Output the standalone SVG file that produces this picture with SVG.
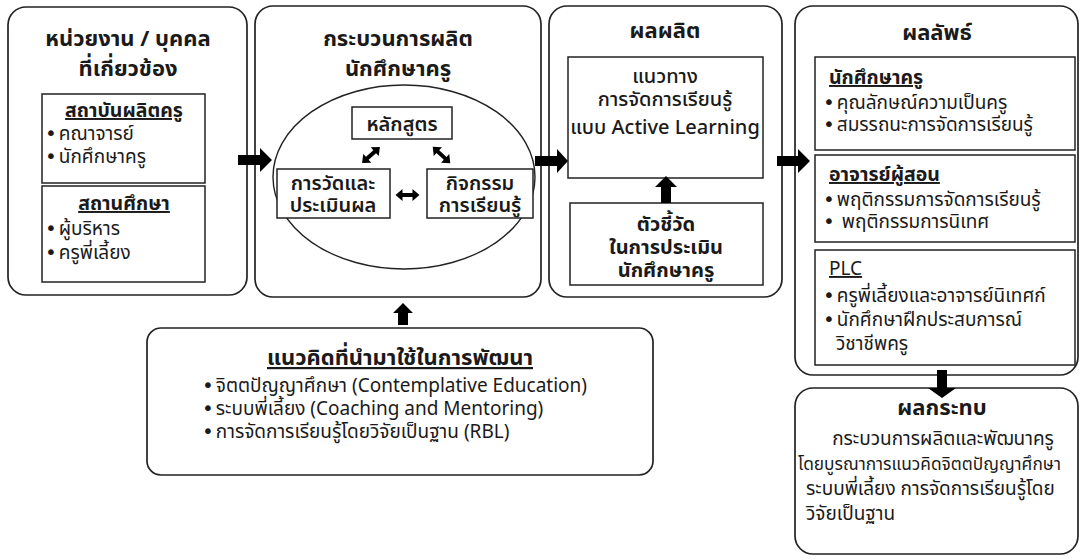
<svg xmlns="http://www.w3.org/2000/svg" xmlns:xlink="http://www.w3.org/1999/xlink" width="1081" height="559" viewBox="0 0 1081 559">
<style>
text{font-family:"Noto Sans Thai","Noto Sans",sans-serif;fill:#1a1a1a}
.outer{fill:#fff;stroke:#222;stroke-width:1.7}
.inner{fill:#fff;stroke:#222;stroke-width:1.5}
.h{font-size:22px;font-weight:bold;text-anchor:middle}
.sh{font-size:19.5px;font-weight:bold;text-decoration:underline}
.b{font-size:19px}
.m{font-size:20px;font-weight:600;text-anchor:middle}
.c{text-anchor:middle}
.bl{font-family:"DejaVu Sans",sans-serif;font-size:20px}
.arr{fill:#000}
</style>
<defs>
<path id="dbl" d="M-12,0 L-5,-6 L-5,-2 L5,-2 L5,-6 L12,0 L5,6 L5,2 L-5,2 L-5,6 Z"/>
</defs>
<rect width="1081" height="559" fill="#fff"/>

<g id="node-units">
<rect class="outer" x="8" y="7" width="239" height="288" rx="18"/>
<text class="h" x="128" y="46">หน่วยงาน / บุคคล</text>
<text class="h" x="128" y="76">ที่เกี่ยวข้อง</text>
<rect class="inner" x="42" y="94" width="163" height="89"/>
<text class="sh c" x="124" y="117">สถาบันผลิตครู</text>
<text class="b" x="45" y="140"><tspan class="bl">•</tspan><tspan dx="2">คณาจารย์</tspan></text>
<text class="b" x="45" y="163"><tspan class="bl">•</tspan><tspan dx="2">นักศึกษาครู</tspan></text>
<rect class="inner" x="42" y="186" width="163" height="96"/>
<text class="sh c" x="124" y="210">สถานศึกษา</text>
<text class="b" x="45" y="235"><tspan class="bl">•</tspan><tspan dx="2">ผู้บริหาร</tspan></text>
<text class="b" x="45" y="259"><tspan class="bl">•</tspan><tspan dx="2">ครูพี่เลี้ยง</tspan></text>
</g>

<g id="node-process">
<rect class="outer" x="255" y="6" width="286" height="291" rx="18"/>
<text class="h" x="398" y="46">กระบวนการผลิต</text>
<text class="h" x="398" y="76">นักศึกษาครู</text>
<ellipse cx="404" cy="177" rx="131" ry="92" fill="none" stroke="#222" stroke-width="1.4"/>
<rect class="inner" x="352" y="107" width="100" height="32"/>
<text class="m" x="402" y="131">หลักสูตร</text>
<rect class="inner" x="277" y="169" width="113" height="49"/>
<text class="m" x="333" y="190">การวัดและ</text>
<text class="m" x="333" y="212">ประเมินผล</text>
<rect class="inner" x="427" y="169" width="106" height="49"/>
<text class="m" x="480" y="190">กิจกรรม</text>
<text class="m" x="480" y="212">การเรียนรู้</text>
</g>

<g id="node-output">
<rect class="outer" x="549" y="6" width="233" height="291" rx="18"/>
<text class="h" x="665" y="38">ผลผลิต</text>
<rect class="inner" x="568" y="57" width="195" height="121"/>
<text class="m" x="665" y="83" style="font-weight:500">แนวทาง</text>
<text class="m" x="665" y="106" style="font-weight:500">การจัดการเรียนรู้</text>
<text class="m" x="665" y="134" style="font-weight:500">แบบ Active Learning</text>
<rect class="inner" x="570" y="203" width="193" height="82"/>
<text class="m" x="666" y="231" style="font-weight:bold">ตัวชี้วัด</text>
<text class="m" x="666" y="254" style="font-weight:bold">ในการประเมิน</text>
<text class="m" x="666" y="277" style="font-weight:bold">นักศึกษาครู</text>
</g>

<g id="node-outcome">
<rect class="outer" x="795" y="6" width="283" height="369" rx="18"/>
<text class="h" x="937" y="40">ผลลัพธ์</text>
<rect class="inner" x="815" y="57" width="260" height="93"/>
<text class="sh" x="829" y="84">นักศึกษาครู</text>
<text class="b" x="823" y="109"><tspan class="bl">•</tspan><tspan dx="2">คุณลักษณ์ความเป็นครู</tspan></text>
<text class="b" x="823" y="131"><tspan class="bl">•</tspan><tspan dx="2">สมรรถนะการจัดการเรียนรู้</tspan></text>
<rect class="inner" x="815" y="155" width="260" height="87"/>
<text class="sh" x="829" y="181">อาจารย์ผู้สอน</text>
<text class="b" x="823" y="206"><tspan class="bl">•</tspan><tspan dx="2">พฤติกรรมการจัดการเรียนรู้</tspan></text>
<text class="b" x="823" y="228"><tspan class="bl">•</tspan><tspan dx="7">พฤติกรรมการนิเทศ</tspan></text>
<rect class="inner" x="815" y="250" width="260" height="115"/>
<text class="b" x="829" y="275" style="text-decoration:underline">PLC</text>
<text class="b" x="823" y="302"><tspan class="bl">•</tspan><tspan dx="2">ครูพี่เลี้ยงและอาจารย์นิเทศก์</tspan></text>
<text class="b" x="823" y="326"><tspan class="bl">•</tspan><tspan dx="2">นักศึกษาฝึกประสบการณ์</tspan></text>
<text class="b" x="836" y="350">วิชาชีพครู</text>
</g>

<g id="node-concepts">
<rect class="outer" x="147" y="328" width="506" height="147" rx="14"/>
<text class="sh c" x="400" y="365" style="font-size:22px">แนวคิดที่นำมาใช้ในการพัฒนา</text>
<text class="b" x="202" y="392"><tspan class="bl">•</tspan><tspan dx="2">จิตตปัญญาศึกษา (Contemplative Education)</tspan></text>
<text class="b" x="202" y="415"><tspan class="bl">•</tspan><tspan dx="2">ระบบพี่เลี้ยง (Coaching and Mentoring)</tspan></text>
<text class="b" x="202" y="438"><tspan class="bl">•</tspan><tspan dx="2">การจัดการเรียนรู้โดยวิจัยเป็นฐาน (RBL)</tspan></text>
</g>

<g id="node-impact">
<rect class="outer" x="795" y="388" width="283" height="166" rx="18"/>
<text class="h" x="942" y="415" style="font-size:22px">ผลกระทบ</text>
<text class="b c" x="943" y="445">กระบวนการผลิตและพัฒนาครู</text>
<text class="b" x="798" y="470" style="font-size:17.3px">โดยบูรณาการแนวคิดจิตตปัญญาศึกษา</text>
<text class="b" x="806" y="495">ระบบพี่เลี้ยง การจัดการเรียนรู้โดย</text>
<text class="b" x="806" y="520">วิจัยเป็นฐาน</text>
</g>

<g id="connectors" class="arr">
<polygon points="238,155 260,155 260,148 272,160 260,172 260,165 238,165"/>
<polygon points="535,156 557,156 557,149 568,161 557,173 557,166 535,166"/>
<polygon points="777,156 798,156 798,149 810,161 798,173 798,166 777,166"/>
<polygon points="661,203 661,187 655,187 666,176 677,187 671,187 671,203"/>
<polygon points="398,325 398,313 393,313 403,303 413,313 408,313 408,325"/>
<polygon points="937,370 937,388 928,388 942,398 956,388 947,388 947,370"/>
<use xlink:href="#dbl" transform="translate(407.5,195)"/>
<use xlink:href="#dbl" transform="translate(371,155) rotate(-42)"/>
<use xlink:href="#dbl" transform="translate(441.5,155) rotate(43)"/>
</g>
</svg>
